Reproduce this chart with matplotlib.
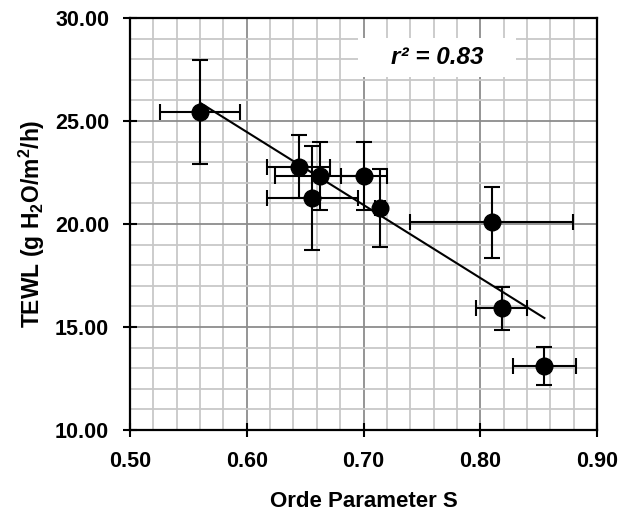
import numpy as np
import matplotlib.pyplot as plt
from matplotlib.patches import Rectangle
from matplotlib.ticker import MultipleLocator, FormatStrFormatter

plt.rcParams['font.family'] = ['Liberation Sans', 'DejaVu Sans']
plt.rcParams['mathtext.fontset'] = 'custom'
plt.rcParams['mathtext.rm'] = 'Liberation Sans:bold'
plt.rcParams['mathtext.it'] = 'Liberation Sans:bold:italic'
plt.rcParams['mathtext.bf'] = 'Liberation Sans:bold'

# order parameter S and TEWL with error bars
order_s = [0.560, 0.6445, 0.6627, 0.7004, 0.6562, 0.7141, 0.8098, 0.8184, 0.8549]
order_s_err = [0.034, 0.027, 0.0385, 0.020, 0.039, 0.004, 0.070, 0.022, 0.027]
tewl = [25.45, 22.78, 22.34, 22.34, 21.25, 20.76, 20.08, 15.91, 13.11]
tewl_err = [2.52, 1.52, 1.65, 1.65, 2.53, 1.89, 1.72, 1.05, 0.92]
r2_text = "r² = 0.83"

x = np.array(order_s)
y = np.array(tewl)
slope, intercept = np.polyfit(x, y, 1)
xf = np.array([x.min(), x.max()])

fig = plt.figure(figsize=(6.18, 5.17), dpi=100)
ax = fig.add_axes([0.2104, 0.1683, 0.7557, 0.7969])

ax.set_xlim(0.5, 0.9)
ax.set_ylim(10, 30)
ax.xaxis.set_major_locator(MultipleLocator(0.1))
ax.xaxis.set_minor_locator(MultipleLocator(0.02))
ax.yaxis.set_major_locator(MultipleLocator(5))
ax.yaxis.set_minor_locator(MultipleLocator(1))
ax.xaxis.set_major_formatter(FormatStrFormatter('%.2f'))
ax.yaxis.set_major_formatter(FormatStrFormatter('%.2f'))

ax.grid(which='minor', color='#c8c8c8', linewidth=1.3, zorder=0)
ax.grid(which='major', color='#8c8c8c', linewidth=1.3, zorder=0)
ax.set_axisbelow(True)

for side in ['top', 'right', 'left', 'bottom']:
    ax.spines[side].set_linewidth(1.6)
    ax.spines[side].set_color('black')
ax.tick_params(which='major', direction='inout', length=10, width=1.5, labelsize=15.5)
ax.tick_params(axis='x', which='major', pad=10)
ax.tick_params(axis='y', which='major', pad=10)
ax.tick_params(which='minor', length=0)
for lab in ax.get_xticklabels() + ax.get_yticklabels():
    lab.set_fontweight('bold')

ax.plot(xf, slope * xf + intercept, color='black', linewidth=1.5, zorder=3)
ax.errorbar(x, y, xerr=order_s_err, yerr=tewl_err, fmt='o', color='black',
            markersize=12, elinewidth=1.5, capsize=5.5, capthick=1.5, zorder=4)

# white label box covering the grid
ax.add_patch(Rectangle((0.6953, 27.14), 0.1353, 1.89, facecolor='white',
                       edgecolor='none', zorder=2))
ax.text(0.763, 28.08, r2_text, ha='center', va='center', fontsize=17.5,
        fontweight='bold', style='italic', zorder=3)

ax.set_xlabel('Orde Parameter S', fontsize=16, fontweight='bold', labelpad=14)
ax.set_ylabel(r'TEWL (g H$_2$O/m$^2$/h)', fontsize=16.5, fontweight='bold', labelpad=6)

fig.savefig('out.png', dpi=100)
